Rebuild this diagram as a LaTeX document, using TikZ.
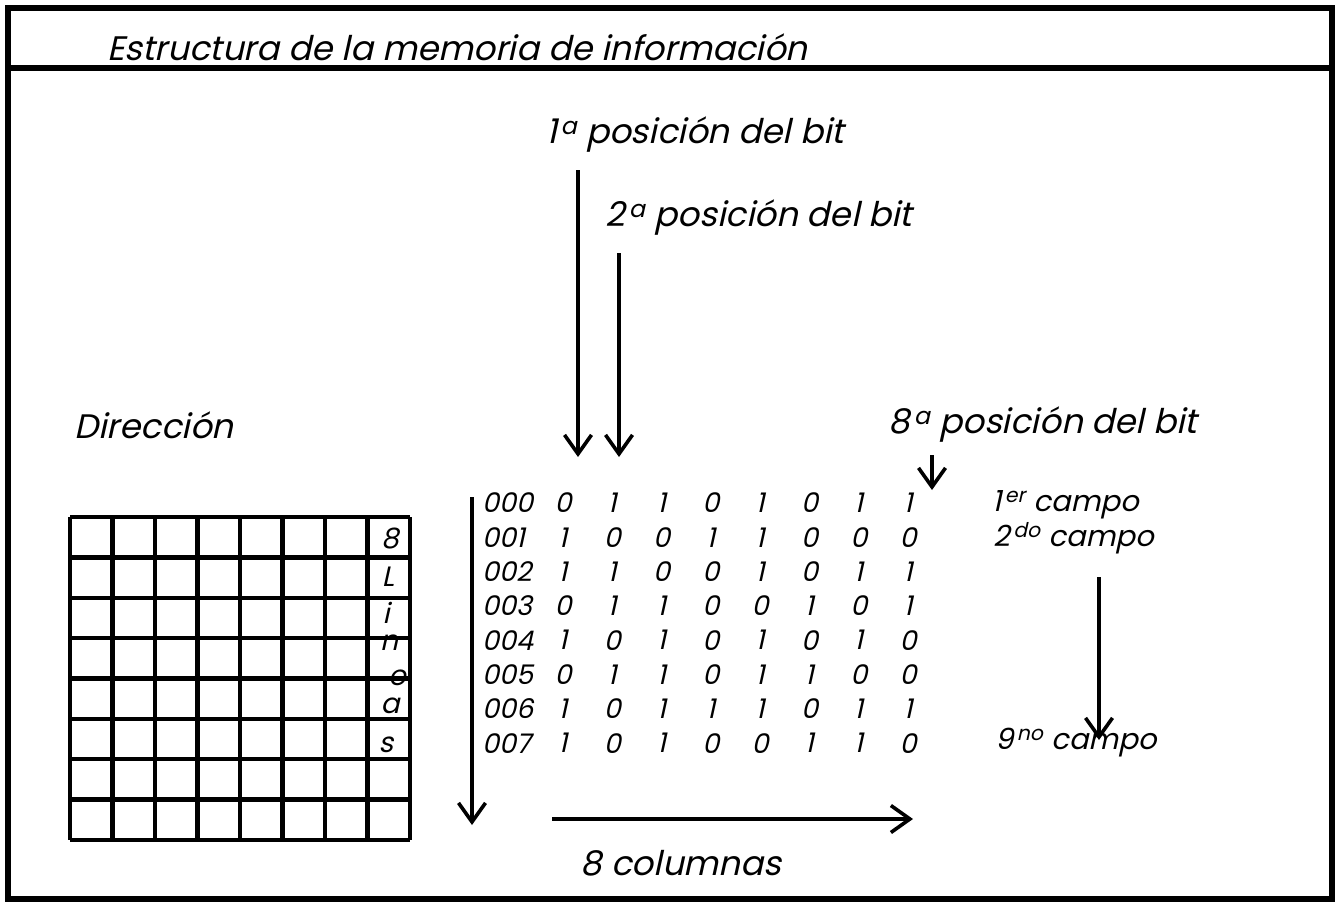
\documentclass[tikz,border=0pt]{standalone}
\usepackage{fontspec}
\setmainfont{Poppins}[FakeSlant=0.22]
\usetikzlibrary{arrows.meta}
\newcommand{\sups}[1]{\kern3.5pt\textsuperscript{#1}}
\tikzset{
  frameline/.style={line width=6pt},
  gridline/.style={line width=4.4pt},
  arr/.style={line width=3.6pt,-{Straight Barb[length=19pt,width=27pt]}},
  lbl/.style={inner sep=0pt,font=\fontsize{34}{40}\selectfont},
  small/.style={inner sep=0pt,font=\fontsize{29}{34}\selectfont},
  dig/.style={inner sep=0pt,font=\fontsize{27}{30}\selectfont},
  gl/.style={inner sep=0pt,font=\fontsize{28}{30}\selectfont},
}
\begin{document}
\begin{tikzpicture}[x=1pt,y=-1pt]
\useasboundingbox (0,0) rectangle (1339,902);
\fill[white] (0,0) rectangle (1339,902);
% frame
\draw[frameline] (8,8) rectangle (1332,899);
\draw[frameline] (8,68) -- (1332,68);
\node[anchor=base west,inner sep=0pt,font=\fontsize{34}{38}\selectfont] (title) at (107,60) {Estructura de la memoria de información};
% labels
\node[lbl] (p1) at (695,135) {1\sups{a} posición del bit};
\node[lbl] (p2) at (759,218) {2\sups{a} posición del bit};
\node[lbl] (p8) at (1043,425) {8\sups{a} posición del bit};
\node[lbl] (dir) at (154,425) {Dirección};
\node[lbl] (cols) at (681,863) {8 columnas};
\node[small,anchor=west] (c1) at (992,505) {1\sups{er} campo};
\node[small,anchor=west] (c2) at (993,538) {2\sups{do} campo};
\node[small,anchor=west] (c9) at (995,743) {9\sups{no} campo};
% grid
\foreach \k in {0,...,8} {
  \draw[gridline] ({70+42.5*\k},517) -- ({70+42.5*\k},840);
  \draw[gridline] (70,{517+40.375*\k}) -- (410,{517+40.375*\k});
}
\node[gl] (g8) at (390,538) {8};
\node[gl] (gL) at (388,577) {L};
\node[gl] (gi) at (386,613) {i};
\node[gl] (gn) at (389,643) {n};
\node[gl] (ge) at (397,678) {e};
\node[gl] (ga) at (390,706) {a};
\node[gl] (gs) at (386,745) {s};
% table
\foreach \row [count=\r from 0] in {
  {000,0,1,1,0,1,0,1,1},
  {001,1,0,0,1,1,0,0,0},
  {002,1,1,0,0,1,0,1,1},
  {003,0,1,1,0,0,1,0,1},
  {004,1,0,1,0,1,0,1,0},
  {005,0,1,1,0,1,1,0,0},
  {006,1,0,1,1,1,0,1,1},
  {007,1,0,1,0,0,1,1,0}} {
  \foreach \v [count=\c from 0] in \row {
    \ifnum\c=0
      \node[dig,anchor=west] (t\r-\c) at (482,{503+34.3*\r}) {\v};
    \else
      \node[dig] (t\r-\c) at ({563+49.3*(\c-1)},{503+34.3*\r}) {\v};
    \fi
  }
}
% arrow coordinates
\coordinate (a1s) at (578,170); \coordinate (a1e) at (578,457);
\coordinate (a2s) at (619,253); \coordinate (a2e) at (619,457);
\coordinate (a8s) at (932,455); \coordinate (a8e) at (932,490);
\coordinate (ls) at (472,497);  \coordinate (le) at (472,825);
\coordinate (hs) at (552,819);  \coordinate (he) at (913,819);
\coordinate (cs) at (1099,577); \coordinate (ce) at (1099,740);
\draw[arr] (a1s) -- (a1e);
\draw[arr] (a2s) -- (a2e);
\draw[arr] (a8s) -- (a8e);
\draw[arr] (ls) -- (le);
\draw[arr] (hs) -- (he);
\draw[arr] (cs) -- (ce);
\end{tikzpicture}
\end{document}
